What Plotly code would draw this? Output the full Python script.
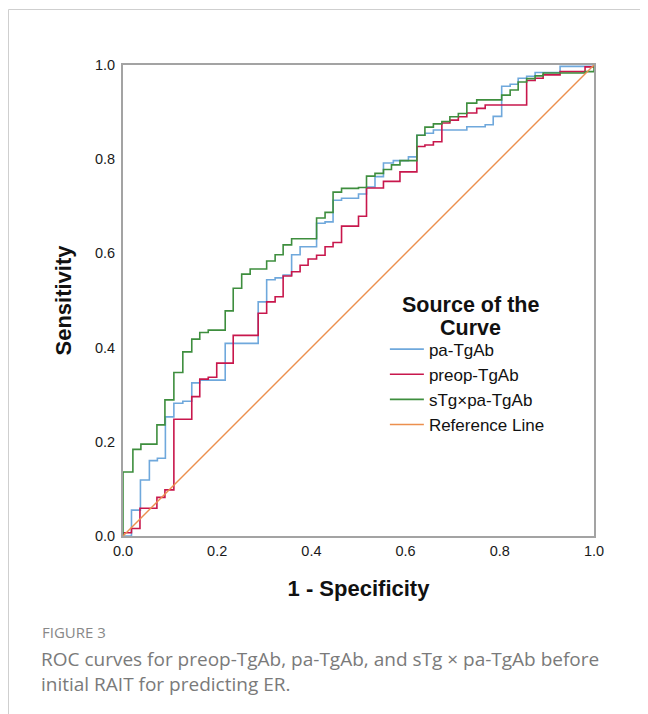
import plotly.graph_objects as go

# ROC step points: at each fpr value the curve rises to the given tpr (hv steps)
pa_fpr = [0.0, 0.018, 0.037, 0.056, 0.073, 0.090, 0.108, 0.127, 0.146, 0.163, 0.217, 0.287, 0.305, 0.323, 0.340,
          0.358, 0.376, 0.411, 0.429, 0.446, 0.464, 0.500, 0.517, 0.535, 0.553, 0.574, 0.606, 0.624, 0.641, 0.659,
          0.730, 0.769, 0.786, 0.804, 0.822, 0.839, 0.857, 0.875, 0.928, 1.0]
pa_tpr = [0.0, 0.055, 0.119, 0.160, 0.165, 0.253, 0.282, 0.286, 0.325, 0.331, 0.409, 0.497, 0.544, 0.548, 0.554,
          0.597, 0.614, 0.664, 0.667, 0.713, 0.717, 0.726, 0.741, 0.763, 0.792, 0.797, 0.805, 0.851, 0.855, 0.862,
          0.869, 0.873, 0.891, 0.955, 0.959, 0.972, 0.976, 0.984, 0.997, 1.0]

preop_fpr = [0.0, 0.018, 0.036, 0.072, 0.089, 0.108, 0.146, 0.163, 0.181, 0.199, 0.234, 0.287, 0.305, 0.323, 0.340,
             0.358, 0.376, 0.393, 0.411, 0.429, 0.446, 0.464, 0.500, 0.517, 0.553, 0.588, 0.624, 0.641, 0.659, 0.677,
             0.694, 0.712, 0.730, 0.751, 0.769, 0.857, 0.875, 0.892, 0.928, 0.981, 1.0]
preop_tpr = [0.007, 0.016, 0.059, 0.082, 0.098, 0.248, 0.296, 0.333, 0.337, 0.367, 0.426, 0.473, 0.497, 0.508, 0.552,
             0.561, 0.575, 0.588, 0.596, 0.614, 0.623, 0.658, 0.679, 0.739, 0.753, 0.773, 0.827, 0.830, 0.837, 0.877,
             0.883, 0.890, 0.898, 0.908, 0.915, 0.967, 0.972, 0.979, 0.986, 0.996, 1.0]

stg_fpr = [0.0, 0.021, 0.038, 0.072, 0.089, 0.108, 0.127, 0.146, 0.163, 0.181, 0.217, 0.234, 0.252, 0.270, 0.305,
           0.323, 0.340, 0.358, 0.411, 0.429, 0.446, 0.464, 0.500, 0.517, 0.535, 0.553, 0.570, 0.588, 0.624, 0.641,
           0.659, 0.677, 0.694, 0.712, 0.730, 0.751, 0.804, 0.822, 0.839, 0.857, 0.875, 0.892, 0.981, 1.0]
stg_tpr = [0.136, 0.184, 0.195, 0.236, 0.289, 0.347, 0.391, 0.418, 0.432, 0.437, 0.478, 0.526, 0.556, 0.567, 0.584,
           0.597, 0.618, 0.631, 0.675, 0.687, 0.730, 0.738, 0.740, 0.764, 0.770, 0.778, 0.788, 0.797, 0.851, 0.868,
           0.875, 0.880, 0.890, 0.897, 0.919, 0.926, 0.936, 0.947, 0.964, 0.971, 0.977, 0.983, 0.986, 1.0]

ref_x = [0.0, 1.0]
ref_y = [0.0, 1.0]

series_names = ["pa-TgAb", "preop-TgAb", "sTg×pa-TgAb", "Reference Line"]
series_colors = ["#6FA8DC", "#C8174C", "#3E8E3E", "#EC8F4E"]

x_ticks = [0.0, 0.2, 0.4, 0.6, 0.8, 1.0]
tick_labels = ["0.0", "0.2", "0.4", "0.6", "0.8", "1.0"]

fig = go.Figure()
for xs, ys, name, col in [(pa_fpr, pa_tpr, series_names[0], series_colors[0]),
                          (preop_fpr, preop_tpr, series_names[1], series_colors[1]),
                          (stg_fpr, stg_tpr, series_names[2], series_colors[2])]:
    fig.add_trace(go.Scatter(x=[0.0] + xs, y=[0.0] + ys, mode="lines", name=name,
                             line=dict(color=col, width=1.6, shape="hv")))
fig.add_trace(go.Scatter(x=ref_x, y=ref_y, mode="lines", name=series_names[3],
                         line=dict(color=series_colors[3], width=1.4)))

sans = "Liberation Sans, Arial, sans-serif"
axis_font = dict(family=sans, size=14.5, color="#1A1A1A")
title_font = dict(family=sans, size=22, color="#111111")

# The page has an 8px body margin; the plot area sits at page x 123..594, y 65..536.
fig.update_layout(
    width=640, height=706,
    margin=dict(l=115, r=54, t=57, b=178),
    paper_bgcolor="white", plot_bgcolor="white",
    showlegend=True,
    legend=dict(x=0.556, y=0.434, xanchor="left", yanchor="top",
                font=dict(family=sans, size=17, color="#111111"),
                bgcolor="rgba(0,0,0,0)", itemwidth=34, tracegroupgap=0),
    xaxis=dict(range=[0, 1], tickvals=x_ticks, ticktext=tick_labels, showgrid=False, zeroline=False,
               showline=True, linecolor="#A3A3A3", linewidth=2, mirror=True, ticks="",
               tickfont=axis_font, ticklabelstandoff=1,
               title=dict(text="<b>1 - Specificity</b>", font=title_font, standoff=22)),
    yaxis=dict(range=[0, 1], tickvals=x_ticks, ticktext=tick_labels, showgrid=False, zeroline=False,
               showline=True, linecolor="#A3A3A3", linewidth=2, mirror=True, ticks="",
               tickfont=axis_font, ticklabelstandoff=3,
               title=dict(text="<b>Sensitivity</b>", font=title_font, standoff=17)),
)

legend_title_font = dict(family=sans, size=21.5, color="#111111")
fig.add_annotation(x=0.737, y=(536 - 305) / 471, xref="paper", yref="paper", text="<b>Source of the</b>",
                   showarrow=False, xanchor="center", yanchor="middle", font=legend_title_font)
fig.add_annotation(x=0.737, y=(536 - 328) / 471, xref="paper", yref="paper", text="<b>Curve</b>",
                   showarrow=False, xanchor="center", yanchor="middle", font=legend_title_font)

cap_font = "Open Sans, Lato, sans-serif"
fig.add_annotation(x=(40 - 123) / 471, y=(536 - 632) / 471, xref="paper", yref="paper", text="FIGURE 3",
                   showarrow=False, xanchor="left", yanchor="middle",
                   font=dict(family=cap_font, size=15, color="#888888"))
fig.add_annotation(x=(39 - 123) / 471, y=(536 - 671) / 471, xref="paper", yref="paper",
                   text="ROC curves for preop-TgAb, pa-TgAb, and sTg × pa-TgAb before<br>initial RAIT for predicting ER.",
                   showarrow=False, xanchor="left", yanchor="middle", align="left",
                   font=dict(family=cap_font, size=19, color="#7A7A7A"))

# page frame (top and left rule)
fig.add_shape(type="line", xref="paper", yref="paper", x0=(8.5 - 123) / 471, x1=(648 - 123) / 471,
              y0=(536 - 9.5) / 471, y1=(536 - 9.5) / 471, line=dict(color="#CFCFCF", width=1))
fig.add_shape(type="line", xref="paper", yref="paper", x0=(8.5 - 123) / 471, x1=(8.5 - 123) / 471,
              y0=(536 - 9.5) / 471, y1=(536 - 714) / 471, line=dict(color="#CFCFCF", width=1))

fig.write_html("out.html")
